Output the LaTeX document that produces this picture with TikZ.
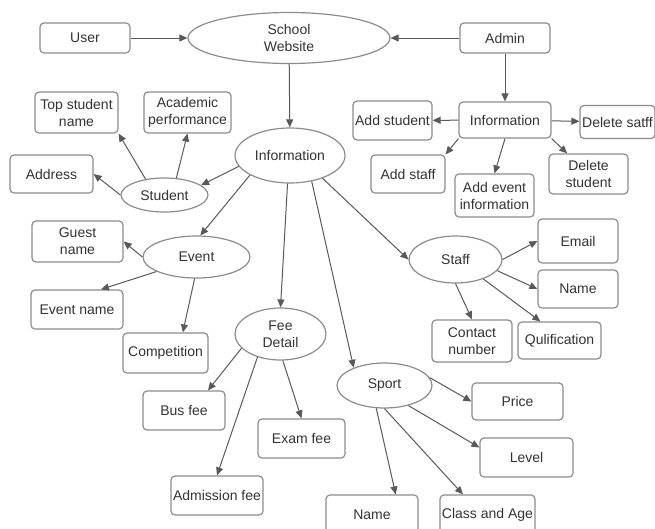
\documentclass[tikz,border=0pt]{standalone}
\usepackage{fontspec}
\setmainfont{Liberation Sans}
\usepackage{xcolor}
\usepackage{tikz}
\usetikzlibrary{arrows.meta,shapes.geometric}
\definecolor{edgegray}{HTML}{595959}
\definecolor{linegray}{HTML}{8C8C8C}
\definecolor{txtgray}{HTML}{333333}

\begin{document}
\begin{tikzpicture}[x=1pt,y=-1pt,>={Triangle[length=8pt,width=7pt]},
font=\fontsize{14}{17}\selectfont,
box/.style={draw=linegray,line width=1.2pt,rounded corners=4pt,fill=white,text=txtgray,align=center,inner sep=0pt},
oval/.style={ellipse,draw=linegray,line width=1.2pt,fill=white,text=txtgray,align=center,inner sep=0pt},
link/.style={->,color=edgegray,line width=1pt}]
\useasboundingbox (0,0) rectangle (655,528);
\node[box,minimum width=90,minimum height=30] (user) at (85,38) {User};
\node[oval,minimum width=202,minimum height=51] (school) at (289,38) {School\\Website};
\node[box,minimum width=90,minimum height=30] (admin) at (505,38) {Admin};
\node[box,minimum width=83,minimum height=41] (topname) at (76.5,112.5) {Top student\\name};
\node[box,minimum width=87,minimum height=41] (academic) at (187.5,112.5) {Academic\\performance};
\node[box,minimum width=83,minimum height=38] (address) at (51.5,174) {Address};
\node[oval,minimum width=87,minimum height=34] (student) at (164.5,195) {Student};
\node[oval,minimum width=110,minimum height=55] (info) at (290,155.5) {Information};
\node[box,minimum width=92,minimum height=36] (adinfo) at (505,120) {Information};
\node[box,minimum width=79,minimum height=39] (addstudent) at (392.5,120.5) {Add student};
\node[box,minimum width=75,minimum height=33] (delsatff) at (617.5,122) {Delete satff};
\node[box,minimum width=74,minimum height=38] (addstaff) at (408,174) {Add staff};
\node[box,minimum width=79,minimum height=43] (addevent) at (494.5,195.5) {Add event\\information};
\node[box,minimum width=79,minimum height=40] (delstudent) at (588.5,174) {Delete\\student};
\node[box,minimum width=91,minimum height=41] (guest) at (77.5,241.5) {Guest\\name};
\node[oval,minimum width=107,minimum height=42] (event) at (196.5,257) {Event};
\node[box,minimum width=92,minimum height=39] (evname) at (77,309.5) {Event name};
\node[box,minimum width=85,minimum height=40] (competition) at (165.5,353) {Competition};
\node[oval,minimum width=91,minimum height=52] (fee) at (280.5,334) {Fee\\Detail};
\node[box,minimum width=82,minimum height=39] (busfee) at (184,410.5) {Bus fee};
\node[box,minimum width=87,minimum height=39] (examfee) at (301.5,438.5) {Exam fee};
\node[box,minimum width=92,minimum height=39] (admission) at (217,495.5) {Admission fee};
\node[oval,minimum width=93,minimum height=47] (staff) at (455.5,259.5) {Staff};
\node[box,minimum width=80,minimum height=44] (email) at (578,241) {Email};
\node[box,minimum width=80,minimum height=38] (staffname) at (578,289) {Name};
\node[box,minimum width=80,minimum height=42] (contact) at (472,341) {Contact\\number};
\node[box,minimum width=83,minimum height=37] (qual) at (559.5,340.5) {Qulification};
\node[oval,minimum width=95,minimum height=45] (sport) at (384.5,385.5) {Sport};
\node[box,minimum width=91,minimum height=37] (price) at (517.5,401.5) {Price};
\node[box,minimum width=93,minimum height=39] (level) at (526.5,457.5) {Level};
\node[box,minimum width=92,minimum height=40] (sportname) at (372,515) {Name};
\node[box,minimum width=95,minimum height=40] (classage) at (487.5,515) {Class and Age};
\draw[link] (user) -- (school);
\draw[link] (admin) -- (school);
\draw[link] (school) -- (info);
\draw[link] (admin) -- (adinfo);
\draw[link] (adinfo) -- (addstudent);
\draw[link] (adinfo) -- (delsatff);
\draw[link] (adinfo.south west) -- (addstaff.north east);
\draw[link] (adinfo.south) -- (addevent.north);
\draw[link] (adinfo.south east) -- (delstudent.136);
\draw[link] (info.192) -- (student.15);
\draw[link] (info.206) -- (event.80);
\draw[link] (info.265) -- (fee.north);
\draw[link] (info.-50) -- (sport.150);
\draw[link] (info.-35) -- (staff.west);
\draw[link] (student.140) -- (topname.south east);
\draw[link] (student.55) -- (academic.south);
\draw[link] (student.west) -- (address.east);
\draw[link] (event.west) -- (guest.east);
\draw[link] (event.200) -- (evname.40);
\draw[link] (event.265) -- (competition.50);
\draw[link] (fee.200) -- (busfee.40);
\draw[link] (fee.225) -- (admission.north);
\draw[link] (fee.275) -- (examfee.north);
\draw[link] (staff.east) -- (email.west);
\draw[link] (staff.-15) -- (staffname.west);
\draw[link] (staff.south) -- (contact.north);
\draw[link] (staff.-35) -- (qual.135);
\draw[link] (sport.10) -- (price.west);
\draw[link] (sport.-40) -- (level.168);
\draw[link] (sport.250) -- (sportname.41);
\draw[link] (sport.south) -- (classage.140);
\end{tikzpicture}
\end{document}
